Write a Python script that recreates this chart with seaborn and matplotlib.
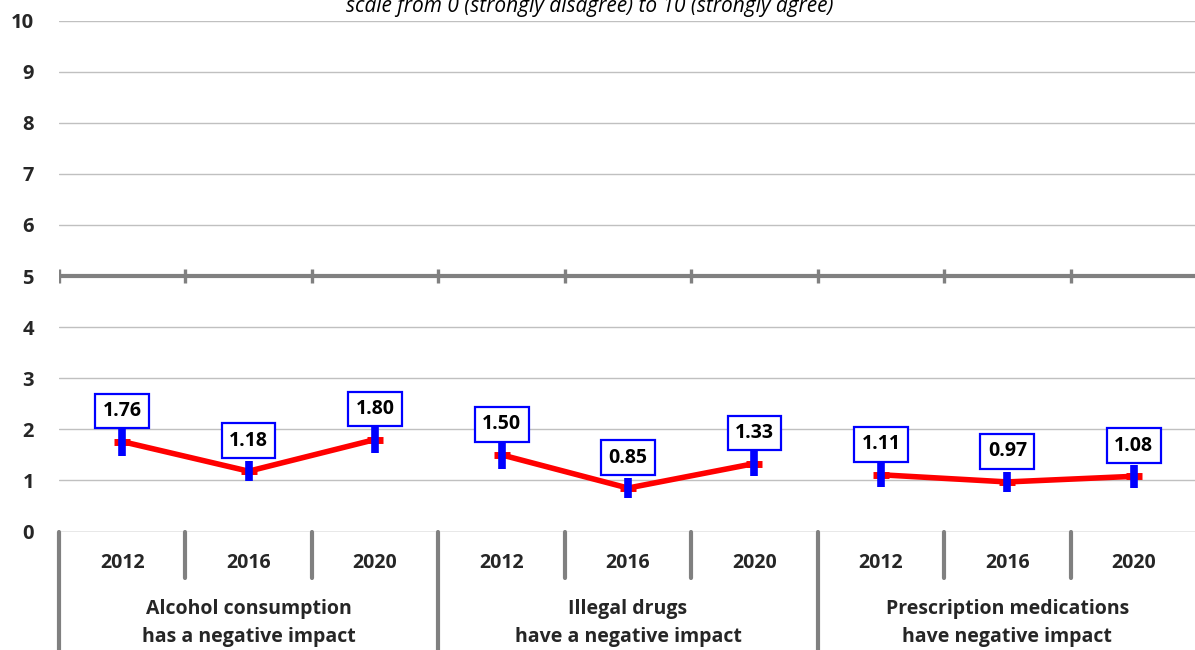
import matplotlib
matplotlib.use("Agg")
import matplotlib.pyplot as plt
import matplotlib.transforms as mtransforms
import seaborn as sns
import pandas as pd
import numpy as np

# ---- data ----
groups = ["Alcohol consumption\nhas a negative impact",
          "Illegal drugs\nhave a negative impact",
          "Prescription medications\nhave negative impact"]
years = ["2012", "2016", "2020"]
alcohol = [1.76, 1.18, 1.80]
drugs = [1.50, 0.85, 1.33]
medications = [1.11, 0.97, 1.08]
alcohol_err = [0.28, 0.20, 0.27]
drugs_err = [0.27, 0.20, 0.25]
medications_err = [0.23, 0.19, 0.23]
yticks = [0, 1, 2, 3, 4, 5, 6, 7, 8, 9, 10]
title = "scale from 0 (strongly disagree) to 10 (strongly agree)"

sns.set_theme(style="white")
plt.rcParams["font.family"] = ["Open Sans", "DejaVu Sans"]

values = [alcohol, drugs, medications]
errs = [alcohol_err, drugs_err, medications_err]
rows = []
for gi, (vals, es) in enumerate(zip(values, errs)):
    for yi, (v, e) in enumerate(zip(vals, es)):
        rows.append({"pos": gi * 3 + yi, "value": v, "err": e,
                     "group": f"g{gi}", "year": years[yi]})
df = pd.DataFrame(rows)

W, H = 1195, 650
fig = plt.figure(figsize=(W / 100, H / 100), dpi=100)
ax_left = 59 / W
ax_right = 1197 / W
ax_bottom = (H - 531.5) / H
ax_top = (H - 20.5) / H
ax = fig.add_axes([ax_left, ax_bottom, ax_right - ax_left, ax_top - ax_bottom])

ax.set_xlim(-0.5, 8.5)
ax.set_ylim(0, 10)

# gridlines
for t in yticks[1:]:
    if t == 5:
        continue
    ax.axhline(t, color="#c0c0c0", lw=1.0, zorder=0)
ax.axhline(0, color="#8c8c8c", lw=1.0, zorder=1)
# the midpoint line
ax.axhline(5, color="#808080", lw=3.0, zorder=1)
bounds = np.arange(-0.5, 8.5, 1.0)
ax.vlines(bounds, 5 - 0.13, 5 + 0.13, color="#808080", lw=2.4, zorder=1)

# lines
sns.lineplot(data=df, x="pos", y="value", hue="group",
             palette=["#ff0000"] * 3, lw=4, legend=False, ax=ax, zorder=3)
ax.plot(df["pos"], df["value"], ls="none", marker="_", ms=12, mew=5,
        color="#ff0000", zorder=4)
ax.errorbar(df["pos"], df["value"], yerr=df["err"], fmt="none",
            ecolor="#0000ff", elinewidth=5.5, capsize=0, zorder=5)

# value labels
for _, r in df.iterrows():
    ax.annotate(f"{r['value']:.2f}", (r["pos"], r["value"]),
                xytext=(0, 22), textcoords="offset points",
                ha="center", va="center", fontsize=14, fontweight="bold",
                color="black", zorder=6,
                bbox=dict(boxstyle="square,pad=0.38", fc="white",
                          ec="#0000ff", lw=1.6))

# y tick labels
ax.set_yticks(yticks)
ax.set_yticklabels([str(t) for t in yticks], fontsize=14.5, fontweight="bold")
ax.tick_params(axis="y", length=0, pad=18)
ax.set_xticks([])
for s in ax.spines.values():
    s.set_visible(False)
ax.set_xlabel("")
ax.set_ylabel("")

# category axis below
trans = mtransforms.blended_transform_factory(ax.transData, fig.transFigure)
y_axis = ax_bottom
y_year_sep = (H - 578) / H
for i in range(9):
    ax.text(i, (H - 563) / H, years[i % 3], transform=trans, ha="center",
            va="center", fontsize=14, fontweight="bold")
for gi, g in enumerate(groups):
    l1, l2 = g.split("\n")
    ax.text(gi * 3 + 1, (H - 609) / H, l1, transform=trans, ha="center",
            va="center", fontsize=14, fontweight="bold")
    ax.text(gi * 3 + 1, (H - 637) / H, l2, transform=trans, ha="center",
            va="center", fontsize=14, fontweight="bold")
for b in np.arange(-0.5, 9.0, 1.0):
    is_group = abs(((b + 0.5) % 3)) < 1e-9
    bottom = 0.0 if is_group else y_year_sep
    ax.plot([b, b], [y_axis, bottom], transform=trans, color="#808080",
            lw=3.0, clip_on=False, zorder=1)

fig.text(590 / W, (H - 12) / H, title, ha="center", va="baseline",
         fontsize=15, style="italic", color="black")

fig.savefig("out.png", dpi=100)
